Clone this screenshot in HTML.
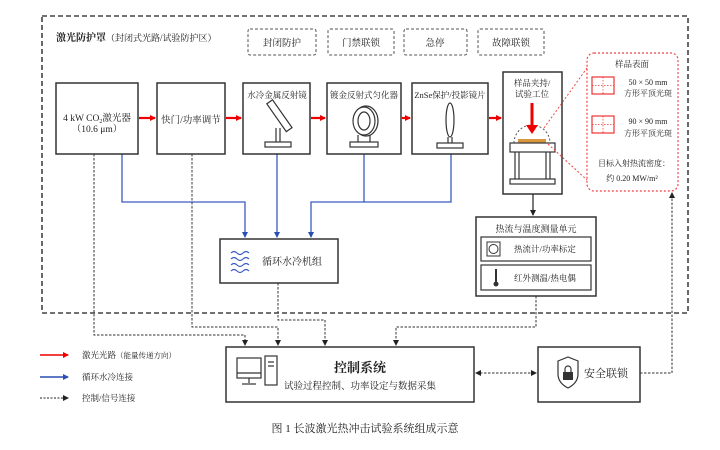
<!DOCTYPE html>
<html><head><meta charset="utf-8"><style>
body{margin:0;background:#fff}
svg{display:block}
text{font-family:"Liberation Serif","Noto Serif CJK SC",serif;fill:#222}
</style></head><body>
<svg width="720" height="450" viewBox="0 0 720 450" xmlns="http://www.w3.org/2000/svg">
<defs>
<marker id="ar" markerWidth="6" markerHeight="6" refX="5" refY="3" orient="auto" markerUnits="userSpaceOnUse"><path d="M0,0 L6,3 L0,6z" fill="#e00"/></marker>
<marker id="ab" markerWidth="6" markerHeight="6" refX="5" refY="3" orient="auto" markerUnits="userSpaceOnUse"><path d="M0,0 L6,3 L0,6z" fill="#2a4fb0"/></marker>
<marker id="ak" markerWidth="6" markerHeight="6" refX="5" refY="3" orient="auto" markerUnits="userSpaceOnUse"><path d="M0,0 L6,3 L0,6z" fill="#222"/></marker>
<marker id="aks" markerWidth="6" markerHeight="6" refX="1" refY="3" orient="auto" markerUnits="userSpaceOnUse"><path d="M6,0 L0,3 L6,6z" fill="#222"/></marker>
</defs>
<!-- outer dashed -->
<rect x="42" y="16" width="646" height="297" fill="none" stroke="#444" stroke-width="1.6" stroke-dasharray="5,3"/>
<text x="56" y="41" font-size="10" font-weight="bold">激光防护罩<tspan font-weight="normal" font-size="9">（封闭式光路/试验防护区）</tspan></text>
<g fill="none" stroke="#555" stroke-dasharray="3,2" stroke-width="1">
<rect x="248" y="29" width="68" height="26" rx="2"/><rect x="328" y="29" width="66" height="26" rx="2"/>
<rect x="404" y="29" width="63" height="26" rx="2"/><rect x="478" y="29" width="66" height="26" rx="2"/>
</g>
<g font-size="9.5" text-anchor="middle"><text x="282" y="46">封闭防护</text><text x="361" y="46">门禁联锁</text><text x="435" y="46">急停</text><text x="511" y="46">故障联锁</text></g>
<!-- blue lines -->
<g stroke="#3a5cc0" stroke-width="1.3" fill="none">
<path d="M122,154 V202 H245 V237" marker-end="url(#ab)"/>
<path d="M277,154 V237" marker-end="url(#ab)"/>
<path d="M364,154 V202 H311 V237" marker-end="url(#ab)"/>
<path d="M451,154 V202 H364"/>
</g>
<!-- dashed signal lines -->
<g stroke="#333" stroke-width="1" fill="none" stroke-dasharray="2.5,1.5">
<path d="M94,154 V335 H245 V345" marker-end="url(#ak)"/>
<path d="M192,154 V327 H278 V345" marker-end="url(#ak)"/>
<path d="M278,283 V320 H325 V345" marker-end="url(#ak)"/>
<path d="M536,296 V327 H396 V345" marker-end="url(#ak)"/>
<path d="M640,373 H672 V193" marker-end="url(#ak)"/>
<path d="M476,373 H536" marker-start="url(#aks)" marker-end="url(#ak)"/>
</g>
<!-- boxes -->
<g fill="#fff" stroke="#333" stroke-width="1.5">
<rect x="56" y="83" width="82" height="71"/><rect x="157" y="83" width="68" height="71"/>
<rect x="243" y="83" width="67" height="71"/><rect x="327" y="83" width="74" height="71"/>
<rect x="412" y="83" width="76" height="71"/><rect x="503" y="72" width="59" height="122"/>
</g>
<text x="97" y="121" font-size="9.5" text-anchor="middle">4 kW CO<tspan font-size="6" dy="2">2</tspan><tspan dy="-2">激光器</tspan></text>
<text x="97" y="132" font-size="9.5" text-anchor="middle">（10.6 μm）</text>
<text x="191" y="123" font-size="9.5" text-anchor="middle">快门/功率调节</text>
<text x="277" y="98" font-size="8.5" text-anchor="middle">水冷金属反射镜</text>
<text x="364" y="98" font-size="8.5" text-anchor="middle">镀金反射式匀化器</text>
<text x="450" y="98" font-size="8.5" text-anchor="middle">ZnSe保护/投影镜片</text>
<!-- red arrows -->
<g stroke="#e00" stroke-width="2.2" marker-end="url(#ar)">
<line x1="139" y1="118" x2="155" y2="118"/><line x1="226" y1="118" x2="241" y2="118"/>
<line x1="311" y1="118" x2="325" y2="118"/><line x1="402" y1="118" x2="410" y2="118"/>
<line x1="489" y1="118" x2="501" y2="118"/>
</g>
<!-- mirror icon -->
<g stroke="#333" fill="#fff" stroke-width="1.2">
<rect x="262" y="112" width="34" height="7" transform="rotate(55 279 116)"/>
<line x1="276" y1="128" x2="276" y2="142"/><line x1="280" y1="128" x2="280" y2="142"/>
<rect x="265" y="142" width="26" height="5"/>
<!-- homogenizer -->
<ellipse cx="366" cy="121" rx="12" ry="15"/><ellipse cx="364" cy="121" rx="11" ry="14"/><ellipse cx="364" cy="121" rx="6" ry="9"/>
<line x1="358" y1="135" x2="358" y2="142"/><line x1="370" y1="135" x2="370" y2="142"/>
<rect x="350" y="142" width="28" height="5"/>
<!-- lens -->
<ellipse cx="450" cy="120" rx="4" ry="17"/>
<line x1="448" y1="137" x2="448" y2="143"/><line x1="452" y1="137" x2="452" y2="143"/>
<rect x="437" y="143" width="26" height="5"/>
</g>
<!-- sample station -->
<text x="532" y="86" font-size="8.5" text-anchor="middle">样品夹持/</text>
<text x="532" y="97" font-size="8.5" text-anchor="middle">试验工位</text>
<path d="M514,143 A18,18 0 0 1 550,143" fill="none" stroke="#555" stroke-dasharray="2,2"/>
<line x1="532" y1="103" x2="532" y2="126" stroke="#e00" stroke-width="3"/>
<path d="M526,125 L538,125 L532,134z" fill="#e00"/>
<rect x="518" y="139" width="28" height="4" fill="#d9963f"/>
<g fill="none" stroke="#333" stroke-width="1.2">
<rect x="510" y="143" width="45" height="9"/>
<line x1="515" y1="152" x2="515" y2="179"/><line x1="519" y1="152" x2="519" y2="179"/>
<line x1="546" y1="152" x2="546" y2="179"/><line x1="550" y1="152" x2="550" y2="179"/>
<rect x="510" y="179" width="45" height="5"/>
</g>
<!-- inset -->
<path d="M544,128 L587,68" stroke="#e44" stroke-dasharray="2,2" fill="none"/>
<path d="M548,144 L587,180" stroke="#e44" stroke-dasharray="2,2" fill="none"/>
<rect x="587" y="53" width="91" height="138" rx="7" fill="none" stroke="#e44" stroke-dasharray="2,2" stroke-width="1.2"/>
<text x="632" y="67" font-size="8.5" text-anchor="middle">样品表面</text>
<g fill="none" stroke="#e33" stroke-width="1.2">
<rect x="592" y="77" width="22" height="17"/><rect x="592" y="116" width="22" height="17"/>
</g>
<g stroke="#e33" stroke-width="0.7" stroke-dasharray="1.5,1.5">
<line x1="603" y1="77" x2="603" y2="94"/><line x1="592" y1="85.5" x2="614" y2="85.5"/>
<line x1="603" y1="116" x2="603" y2="133"/><line x1="592" y1="124.5" x2="614" y2="124.5"/>
</g>
<g font-size="8" text-anchor="middle">
<text x="648" y="85">50 × 50 mm</text><text x="648" y="96">方形平顶光斑</text>
<text x="648" y="124">90 × 90 mm</text><text x="648" y="136">方形平顶光斑</text>
<text x="634" y="166">目标入射热流密度：</text><text x="632" y="181">约 0.20 MW/m²</text>
</g>
<!-- down arrow -->
<line x1="533" y1="194" x2="533" y2="215" stroke="#222" stroke-width="1.2" marker-end="url(#ak)"/>
<!-- measurement unit -->
<rect x="476" y="217" width="120" height="79" fill="#fff" stroke="#333" stroke-width="1.5"/>
<text x="536" y="232" font-size="9" text-anchor="middle">热流与温度测量单元</text>
<rect x="481" y="237" width="110" height="24" fill="none" stroke="#333" stroke-width="1.2"/>
<rect x="481" y="265" width="110" height="25" fill="none" stroke="#333" stroke-width="1.2"/>
<rect x="487" y="242" width="13" height="14" fill="none" stroke="#333"/><circle cx="493.5" cy="249" r="4.5" fill="none" stroke="#333"/>
<text x="514" y="252" font-size="8.5">热流计/功率标定</text>
<line x1="496" y1="269" x2="496" y2="283" stroke="#333" stroke-width="2"/><circle cx="496" cy="284" r="2.5" fill="#333"/>
<text x="514" y="281" font-size="8.5">红外测温/热电偶</text>
<!-- chiller -->
<rect x="220" y="239" width="118" height="44" fill="#fff" stroke="#333" stroke-width="1.5"/>
<g fill="none" stroke="#3a5cc0" stroke-width="1.2">
<path d="M231,253 q3,-3 6,0 t6,0 t6,0"/><path d="M231,259 q3,-3 6,0 t6,0 t6,0"/><path d="M231,265 q3,-3 6,0 t6,0 t6,0"/><path d="M231,271 q3,-3 6,0 t6,0 t6,0"/>
</g>
<text x="262" y="265" font-size="10">循环水冷机组</text>
<!-- control -->
<rect x="226" y="347" width="248" height="55" fill="#fff" stroke="#333" stroke-width="1.5"/>
<g fill="none" stroke="#333" stroke-width="1.2">
<rect x="237" y="358" width="24" height="20"/><line x1="237" y1="373" x2="261" y2="373"/>
<line x1="249" y1="378" x2="249" y2="383"/><line x1="242" y1="384" x2="256" y2="384"/>
<rect x="265" y="356" width="12" height="29"/><line x1="268" y1="362" x2="274" y2="362"/><line x1="268" y1="366" x2="274" y2="366"/>
</g>
<text x="360" y="372" font-size="13" font-weight="bold" text-anchor="middle">控制系统</text>
<text x="360" y="389" font-size="9.5" text-anchor="middle">试验过程控制、功率设定与数据采集</text>
<!-- safety -->
<rect x="538" y="347" width="102" height="55" fill="#fff" stroke="#333" stroke-width="1.5"/>
<path d="M558,361 L568,357 L578,361 V374 Q578,383 568,388 Q558,383 558,374z" fill="none" stroke="#333" stroke-width="1.2"/>
<rect x="563" y="372" width="10" height="8" fill="#333"/><path d="M565,372 v-3 a3,3 0 0 1 6,0 v3" fill="none" stroke="#333" stroke-width="1.2"/>
<text x="584" y="377" font-size="11">安全联锁</text>
<!-- legend -->
<line x1="40" y1="355" x2="68" y2="355" stroke="#e00" stroke-width="1.5" marker-end="url(#ar)"/>
<line x1="40" y1="377" x2="68" y2="377" stroke="#2a4fb0" stroke-width="1.5" marker-end="url(#ab)"/>
<line x1="40" y1="398" x2="68" y2="398" stroke="#222" stroke-width="1" stroke-dasharray="2,1.5" marker-end="url(#ak)"/>
<g font-size="8.5"><text x="82" y="358">激光光路<tspan font-size="7.5">（能量传递方向）</tspan></text><text x="82" y="380">循环水冷连接</text><text x="82" y="401">控制/信号连接</text></g>
<text x="365" y="432" font-size="11" text-anchor="middle">图 1  长波激光热冲击试验系统组成示意</text>
</svg>
</body></html>
